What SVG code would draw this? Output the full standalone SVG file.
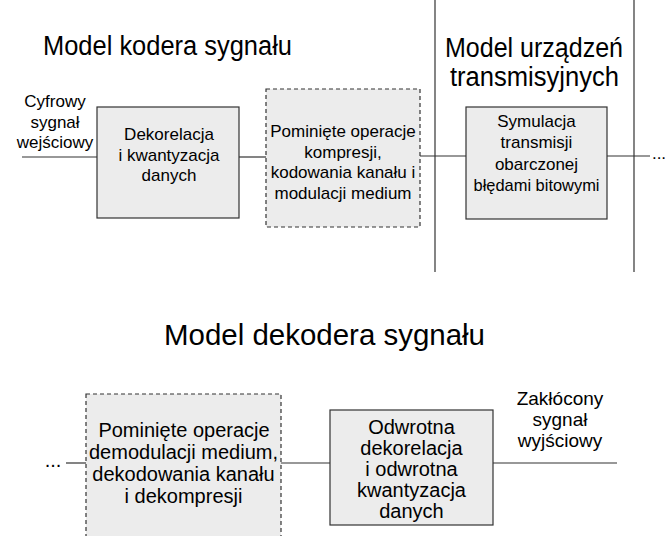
<svg xmlns="http://www.w3.org/2000/svg" width="665" height="536" viewBox="0 0 665 536">
<style>
text{font-family:"Liberation Sans",Arial,sans-serif;fill:#000;text-anchor:middle}
.t{font-size:27px}
.b{font-size:17px}
.c{font-size:20px}
.box{fill:#ececec;stroke:#333;stroke-width:1.2}
.dash{fill:#ececec;stroke:#333;stroke-width:1.2;stroke-dasharray:4,3}
.ln{stroke:#333;stroke-width:1.2;fill:none}
</style>
<rect width="665" height="536" fill="#fff"/>
<g id="titles">
<text class="t" x="167.5" y="55" textLength="249" lengthAdjust="spacingAndGlyphs">Model kodera sygnału</text>
<text class="t" x="534" y="57" textLength="178" lengthAdjust="spacingAndGlyphs">Model urządzeń</text>
<text class="t" x="534.5" y="86" textLength="169" lengthAdjust="spacingAndGlyphs">transmisyjnych</text>
<text class="t" x="324.5" y="345" style="font-size:29px" textLength="321" lengthAdjust="spacingAndGlyphs">Model dekodera sygnału</text>
</g>
<g id="connectors">
<line class="ln" x1="435" y1="0" x2="435" y2="272"/>
<line class="ln" x1="634" y1="0" x2="634" y2="272"/>
<line class="ln" x1="22" y1="157" x2="97" y2="157"/>
<line class="ln" x1="239" y1="157" x2="266" y2="157"/>
<line class="ln" x1="420" y1="156" x2="466" y2="156"/>
<line class="ln" x1="607" y1="156" x2="650" y2="156"/>
<line class="ln" x1="66" y1="463" x2="86" y2="463"/>
<line class="ln" x1="281" y1="463" x2="330" y2="463"/>
<line class="ln" x1="493" y1="463" x2="617" y2="463"/>
</g>
<g id="input-label">
<text class="b" x="55" y="107">Cyfrowy</text>
<text class="b" x="55" y="127.5">sygnał</text>
<text class="b" x="55" y="148">wejściowy</text>
</g>
<g id="dekorelacja">
<rect class="box" x="97" y="107" width="142" height="111"/>
<text class="b" x="169" y="140">Dekorelacja</text>
<text class="b" x="169" y="160.5">i kwantyzacja</text>
<text class="b" x="169" y="181">danych</text>
</g>
<g id="pominiete-koder">
<rect class="dash" x="266" y="89" width="154" height="138"/>
<text class="b" x="343" y="137">Pominięte operacje</text>
<text class="b" x="343" y="157.5">kompresji,</text>
<text class="b" x="343" y="178">kodowania kanału i</text>
<text class="b" x="343" y="198.5">modulacji medium</text>
</g>
<g id="symulacja">
<rect class="box" x="466" y="107" width="141" height="112"/>
<text class="b" x="536.5" y="126.5">Symulacja</text>
<text class="b" x="536.5" y="148">transmisji</text>
<text class="b" x="536.5" y="169.5">obarczonej</text>
<text class="b" x="536.5" y="191" textLength="126" lengthAdjust="spacingAndGlyphs">błędami bitowymi</text>
</g>
<g id="dots-top"><text class="b" x="659" y="159">...</text></g>
<g id="dots-bottom"><text class="c" x="53" y="467">...</text></g>
<g id="pominiete-dekoder">
<rect class="dash" x="86" y="394" width="195" height="150"/>
<text class="c" x="184" y="437">Pominięte operacje</text>
<text class="c" x="183.5" y="459">demodulacji medium,</text>
<text class="c" x="183.5" y="481">dekodowania kanału</text>
<text class="c" x="183.5" y="503">i dekompresji</text>
</g>
<g id="odwrotna">
<rect class="box" x="330" y="410" width="163" height="115"/>
<text class="c" x="411.5" y="434">Odwrotna</text>
<text class="c" x="411.5" y="455">dekorelacja</text>
<text class="c" x="411.5" y="476">i odwrotna</text>
<text class="c" x="411.5" y="497">kwantyzacja</text>
<text class="c" x="411.5" y="518">danych</text>
</g>
<g id="output-label">
<text class="c" x="560" y="405" style="font-size:19px">Zakłócony</text>
<text class="c" x="560" y="426" style="font-size:19px">sygnał</text>
<text class="c" x="560" y="447" style="font-size:19px">wyjściowy</text>
</g>
</svg>
